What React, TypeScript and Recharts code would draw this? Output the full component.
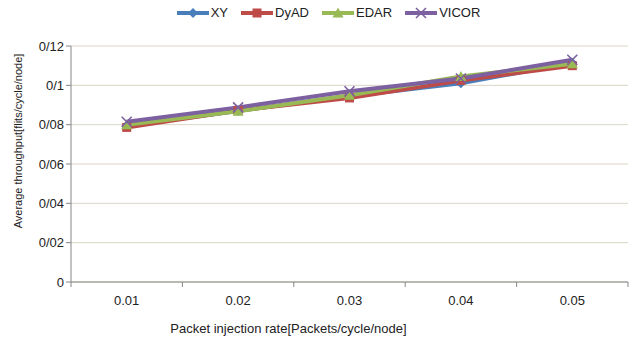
import React from 'react';
import { LineChart, Line, XAxis, YAxis, CartesianGrid, Legend, Label } from 'recharts';

const rates = ['0.01', '0.02', '0.03', '0.04', '0.05'];
const xy = [0.0795, 0.087, 0.0945, 0.101, 0.1115];
const dyad = [0.0786, 0.0872, 0.0936, 0.1025, 0.11];
const edar = [0.08, 0.0868, 0.095, 0.1045, 0.111];
const vicor = [0.0815, 0.0888, 0.097, 0.1035, 0.113];
const yTicks = [0, 0.02, 0.04, 0.06, 0.08, 0.1, 0.12];

const data = rates.map((r, i) => ({ rate: r, XY: xy[i], DyAD: dyad[i], EDAR: edar[i], VICOR: vicor[i] }));

const W = 632;
const H = 343;
const LEFT = 71;
const RIGHT = 628;
const BOTTOM = 282;
const BAND = (RIGHT - LEFT) / rates.length;
const FONT = "'Liberation Sans', Arial, sans-serif";
const AXIS = '#868686';

const series = [
  { key: 'XY', color: '#4a7ebb', shape: 'diamond' },
  { key: 'DyAD', color: '#be4b48', shape: 'square' },
  { key: 'EDAR', color: '#98b954', shape: 'triangle' },
  { key: 'VICOR', color: '#7d60a0', shape: 'cross' },
];

function Marker({ cx, cy, shape, color }: { cx: number; cy: number; shape: string; color: string }) {
  if (cx == null || cy == null) return null;
  if (shape === 'diamond')
    return <polygon points={`${cx},${cy - 5} ${cx + 5},${cy} ${cx},${cy + 5} ${cx - 5},${cy}`} fill={color} />;
  if (shape === 'square') return <rect x={cx - 4.5} y={cy - 4.5} width={9} height={9} fill={color} />;
  if (shape === 'triangle')
    return <polygon points={`${cx},${cy - 5.5} ${cx + 5.5},${cy + 4.5} ${cx - 5.5},${cy + 4.5}`} fill={color} />;
  return (
    <g stroke={color} strokeWidth={1.6}>
      <line x1={cx - 5} y1={cy - 5} x2={cx + 5} y2={cy + 5} />
      <line x1={cx - 5} y1={cy + 5} x2={cx + 5} y2={cy - 5} />
    </g>
  );
}

const fmtY = (v: number) => (v === 0 ? '0' : '0/' + String(v).split('.')[1]);

function XTick(props: any) {
  const { x, payload, index } = props;
  return (
    <g>
      <line x1={x - BAND / 2} y1={BOTTOM} x2={x - BAND / 2} y2={BOTTOM + 5} stroke={AXIS} />
      {index === rates.length - 1 && (
        <line x1={x + BAND / 2} y1={BOTTOM} x2={x + BAND / 2} y2={BOTTOM + 5} stroke={AXIS} />
      )}
      <text x={x} y={BOTTOM + 23} textAnchor="middle" fontSize={13} fill="#222" fontFamily={FONT}>
        {payload.value}
      </text>
    </g>
  );
}

function LegendContent() {
  return (
    <div style={{ display: 'flex', justifyContent: 'center', gap: 12, fontFamily: FONT, fontSize: 13, color: '#222', marginLeft: 28 }}>
      {series.map((s) => (
        <div key={s.key} style={{ display: 'flex', alignItems: 'center' }}>
          <svg width={34} height={12}>
            <line x1={1} y1={6} x2={33} y2={6} stroke={s.color} strokeWidth={4} />
            <Marker cx={17} cy={6} shape={s.shape} color={s.color} />
          </svg>
          <span style={{ marginLeft: 1 }}>{s.key}</span>
        </div>
      ))}
    </div>
  );
}

export default function App() {
  return (
    <div style={{ position: 'absolute', left: 0, top: 0, width: W, height: H, background: '#fff' }}>
      <LineChart width={W} height={H} data={data} margin={{ top: 20, right: W - RIGHT, bottom: 11, left: 0 }}>
        <Legend verticalAlign="top" height={26} content={<LegendContent />} wrapperStyle={{ top: 5 }} />
        <CartesianGrid vertical={false} stroke="#d9d5c6" />
        <XAxis
          dataKey="rate"
          height={50}
          stroke={AXIS}
          tickLine={false}
          tick={<XTick />}
          interval={0}
          padding={{ left: BAND / 2, right: BAND / 2 }}
        >
          <Label
            value="Packet injection rate[Packets/cycle/node]"
            position="insideBottom"
            dx={-61}
            offset={-1}
            style={{ fontSize: 13, fill: '#222', fontFamily: FONT }}
          />
        </XAxis>
        <YAxis
          width={LEFT}
          domain={[0, 0.12]}
          ticks={yTicks}
          tickFormatter={fmtY}
          stroke={AXIS}
          tickSize={5}
          tick={{ fontSize: 13, fill: '#222', fontFamily: FONT }}
        >
          <Label
            value="Average throughput[flits/cycle/node]"
            angle={-90}
            position="insideLeft"
            dx={13}
            dy={-23}
            style={{ fontSize: 11, fill: '#222', fontFamily: FONT, textAnchor: 'middle' }}
          />
        </YAxis>
        {series.map((s) => (
          <Line
            key={s.key}
            dataKey={s.key}
            stroke={s.color}
            strokeWidth={4}
            isAnimationActive={false}
            dot={(p: any) => <Marker key={`${s.key}-${p.index}`} cx={p.cx} cy={p.cy} shape={s.shape} color={s.color} />}
            activeDot={false}
          />
        ))}
      </LineChart>
    </div>
  );
}
